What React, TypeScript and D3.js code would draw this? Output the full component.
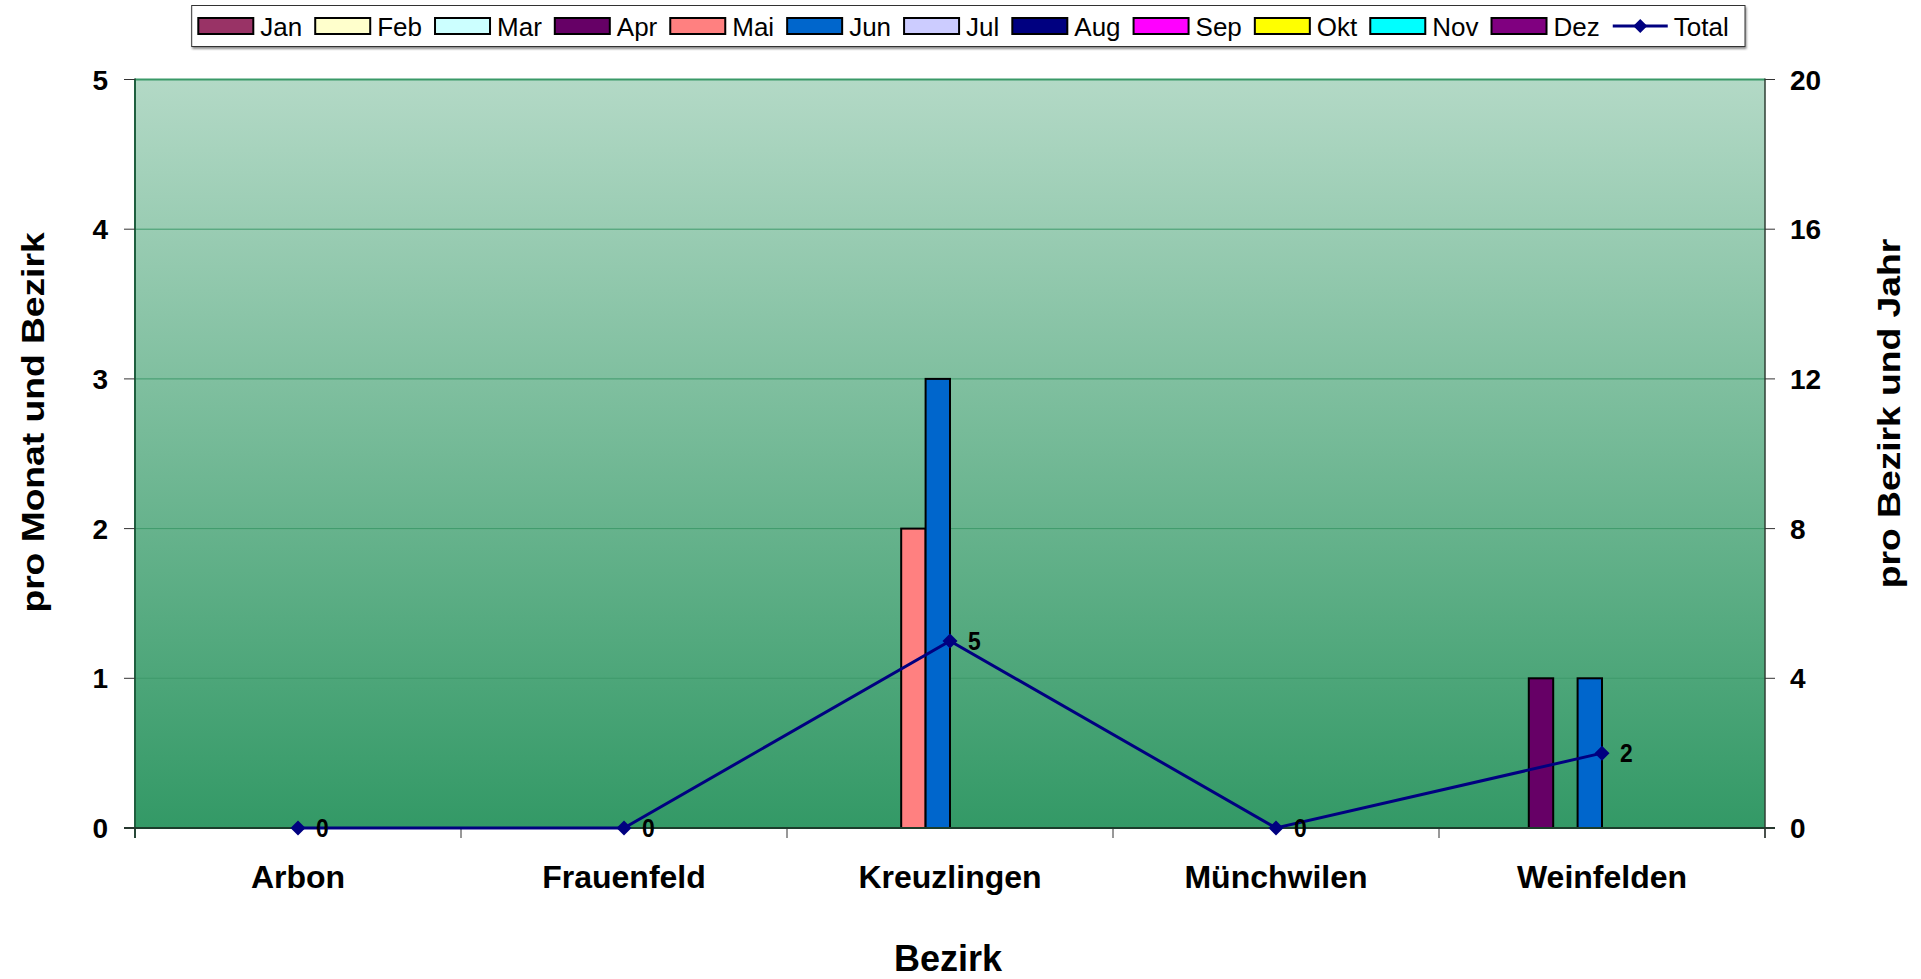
import React from "react";
import * as d3 from "d3";

const categories = ["Arbon", "Frauenfeld", "Kreuzlingen", "Münchwilen", "Weinfelden"];
const months = ["Jan", "Feb", "Mar", "Apr", "Mai", "Jun", "Jul", "Aug", "Sep", "Okt", "Nov", "Dez"];
const monthColors = ["#993366", "#FFFFCC", "#CCFFFF", "#660066", "#FF8080", "#0066CC", "#CCCCFF", "#000080", "#FF00FF", "#FFFF00", "#00FFFF", "#800080"];

const jan = [0, 0, 0, 0, 0];
const feb = [0, 0, 0, 0, 0];
const mar = [0, 0, 0, 0, 0];
const apr = [0, 0, 0, 0, 1];
const mai = [0, 0, 2, 0, 0];
const jun = [0, 0, 3, 0, 1];
const jul = [0, 0, 0, 0, 0];
const aug = [0, 0, 0, 0, 0];
const sep = [0, 0, 0, 0, 0];
const okt = [0, 0, 0, 0, 0];
const nov = [0, 0, 0, 0, 0];
const dez = [0, 0, 0, 0, 0];
const monthlySeries = [jan, feb, mar, apr, mai, jun, jul, aug, sep, okt, nov, dez];

const total = [0, 0, 5, 0, 2];

const leftTicks = [0, 1, 2, 3, 4, 5];
const rightTicks = [0, 4, 8, 12, 16, 20];

const FONT = "'Liberation Sans', Arial, Helvetica, sans-serif";

function measure(text: string, font: string): number {
  if (typeof document === "undefined") return text.length * 14;
  const c = document.createElement("canvas");
  const ctx = c.getContext("2d");
  if (!ctx) return text.length * 14;
  ctx.font = font;
  return ctx.measureText(text).width;
}

export default function App() {
  const W = 1921;
  const H = 979;
  const L = 135, R = 1765, T = 79.5, B = 828;

  const x = d3.scaleBand<string>().domain(categories).range([L, R]).paddingInner(0).paddingOuter(0);
  const xm = d3.scaleBand<string>().domain(months).range([0, x.bandwidth()]).paddingInner(0).paddingOuter(0.68);
  const yL = d3.scaleLinear().domain([0, 5]).range([B, T]);
  const yR = d3.scaleLinear().domain([0, 20]).range([B, T]);

  const line = d3
    .line<number>()
    .x((_, i) => (x(categories[i]) as number) + x.bandwidth() / 2)
    .y((d) => yR(d));

  // legend layout
  const legFont = `26px ${FONT}`;
  const swW = 55, swH = 16, gapT = 7, gapN = 13;
  let cx = 198.3;
  const legendItems: { label: string; color: string; x: number; line?: boolean }[] = [];
  months.forEach((m, i) => {
    legendItems.push({ label: m, color: monthColors[i], x: cx });
    cx += swW + gapT + measure(m, legFont) + gapN;
  });
  legendItems.push({ label: "Total", color: "#000080", x: cx, line: true });

  const boundaries = d3.range(categories.length + 1).map((k) => L + k * x.bandwidth());

  return (
    <svg width={W} height={H} style={{ position: "absolute", left: 0, top: 0, display: "block" }} fontFamily={FONT}>
      <defs>
        <linearGradient id="bg" x1="0" y1="0" x2="0" y2="1">
          <stop offset="0%" stopColor="#b3d9c6" />
          <stop offset="100%" stopColor="#339966" />
        </linearGradient>
        <filter id="sh" x="-5%" y="-20%" width="110%" height="160%">
          <feDropShadow dx="1" dy="2" stdDeviation="0.8" floodColor="#000" floodOpacity="0.45" />
        </filter>
      </defs>
      <rect x={0} y={0} width={W} height={H} fill="#ffffff" />

      {/* plot background */}
      <rect x={L} y={T} width={R - L} height={B - T} fill="url(#bg)" />

      {/* gridlines */}
      {leftTicks.slice(1, -1).map((t) => (
        <line key={"g" + t} x1={L} x2={R} y1={yL(t)} y2={yL(t)} stroke="#3f9a6c" strokeWidth={1} />
      ))}
      <line x1={L} x2={R} y1={T} y2={T} stroke="#3a9968" strokeWidth={2} />

      {/* bars */}
      {categories.map((c, ci) =>
        monthlySeries.map((s, mi) =>
          s[ci] > 0 ? (
            <rect
              key={c + mi}
              x={(x(c) as number) + (xm(months[mi]) as number)}
              y={yL(s[ci])}
              width={xm.bandwidth()}
              height={B - yL(s[ci])}
              fill={monthColors[mi]}
              stroke="#000"
              strokeWidth={2}
            />
          ) : null
        )
      )}

      {/* axes lines */}
      <line x1={L} x2={L} y1={T - 1} y2={B + 10} stroke="#1f5f3f" strokeWidth={2} />
      <line x1={R} x2={R} y1={T - 1} y2={B + 10} stroke="#2f3f35" strokeWidth={1.5} />
      <line x1={L - 11} x2={R + 10} y1={B} y2={B} stroke="#1b3d2b" strokeWidth={2} />

      {/* left ticks */}
      {leftTicks.map((t) => (
        <g key={"l" + t}>
          <line x1={L - 11} x2={L} y1={yL(t)} y2={yL(t)} stroke="#333" strokeWidth={1} />
          <text x={108} y={yL(t) + 10} textAnchor="end" fontSize={28} fontWeight="bold" fill="#000">
            {t}
          </text>
        </g>
      ))}
      {/* right ticks */}
      {rightTicks.map((t) => (
        <g key={"r" + t}>
          <line x1={R} x2={R + 10} y1={yR(t)} y2={yR(t)} stroke="#333" strokeWidth={1} />
          <text x={1790} y={yR(t) + 10} textAnchor="start" fontSize={28} fontWeight="bold" fill="#000">
            {t}
          </text>
        </g>
      ))}
      {/* category ticks */}
      {boundaries.map((b, i) => (
        <line key={"b" + i} x1={b} x2={b} y1={B} y2={B + 10} stroke="#333" strokeWidth={1} />
      ))}

      {/* category labels */}
      {categories.map((c) => (
        <text key={c} x={(x(c) as number) + x.bandwidth() / 2} y={888} textAnchor="middle" fontSize={32} fontWeight="bold" fill="#000">
          {c}
        </text>
      ))}

      {/* total line */}
      <path d={line(total) || ""} fill="none" stroke="#000080" strokeWidth={3} />
      {total.map((v, i) => {
        const px = (x(categories[i]) as number) + x.bandwidth() / 2;
        const py = yR(v);
        const r = 7.5;
        return (
          <g key={"t" + i}>
            <path d={`M${px},${py - r}L${px + r},${py}L${px},${py + r}L${px - r},${py}Z`} fill="#000080" />
            <text transform={`translate(${px + 18},${py + 9}) scale(0.88,1)`} fontSize={26} fontWeight="bold" fill="#000">
              {v}
            </text>
          </g>
        );
      })}

      {/* axis titles */}
      <text x={948} y={971} textAnchor="middle" fontSize={36} fontWeight="bold" fill="#000">
        Bezirk
      </text>
      <text transform={`translate(43.5,422.5) rotate(-90) scale(1.2,1)`} textAnchor="middle" fontSize={31} fontWeight="bold" fill="#000">
        pro Monat und Bezirk
      </text>
      <text transform={`translate(1900,413.5) rotate(-90) scale(1.2,1)`} textAnchor="middle" fontSize={31} fontWeight="bold" fill="#000">
        pro Bezirk und Jahr
      </text>

      {/* legend */}
      <rect x={191.7} y={5.5} width={1745 - 191.7} height={41} fill="#fff" stroke="#333" strokeWidth={1} filter="url(#sh)" />
      {legendItems.map((it) =>
        it.line ? (
          <g key={it.label}>
            <line x1={it.x} x2={it.x + swW} y1={26} y2={26} stroke={it.color} strokeWidth={3} />
            <path d={`M${it.x + swW / 2},${26 - 7}L${it.x + swW / 2 + 7},26L${it.x + swW / 2},${26 + 7}L${it.x + swW / 2 - 7},26Z`} fill={it.color} />
            <text x={it.x + swW + 6} y={35.5} fontSize={26} fill="#000">
              {it.label}
            </text>
          </g>
        ) : (
          <g key={it.label}>
            <rect x={it.x} y={18} width={swW} height={swH} fill={it.color} stroke="#000" strokeWidth={2} />
            <text x={it.x + swW + gapT} y={35.5} fontSize={26} fill="#000">
              {it.label}
            </text>
          </g>
        )
      )}
    </svg>
  );
}
